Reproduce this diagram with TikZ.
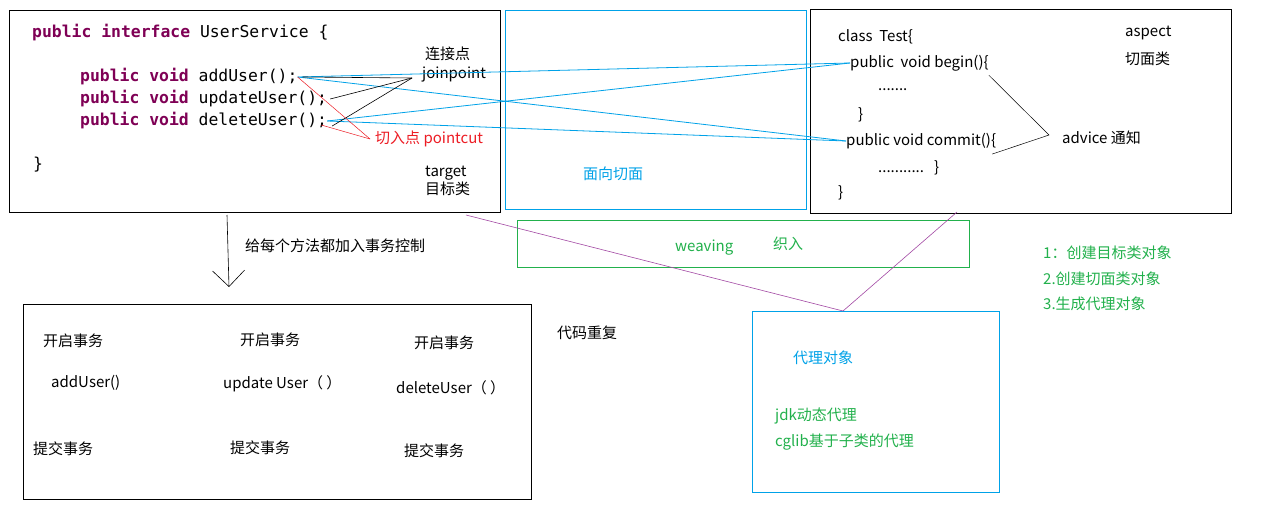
\documentclass[tikz,border=0pt]{standalone}
\usepackage{fontspec}
\usepackage{tikz}
\usetikzlibrary{arrows.meta}
\setmainfont{Noto Sans CJK SC}
\newfontfamily\codefont{DejaVu Sans Mono}
\definecolor{paintblue}{HTML}{00A2E8}
\definecolor{paintgreen}{HTML}{22B14C}
\definecolor{paintpurple}{HTML}{A349A4}
\definecolor{paintred}{HTML}{ED1C24}
\definecolor{keyword}{HTML}{7F0055}
\newcommand{\kwd}[1]{\textbf{\color{keyword}#1}}

\begin{document}
\begin{tikzpicture}[x=1pt,y=-1pt,
  box/.style={draw,line width=0.8pt,anchor=north west,inner sep=0pt},
  lbl/.style={anchor=west,inner sep=0pt,yshift=-2pt,font=\fontsize{15}{18}\selectfont},
  code/.style={anchor=west,inner sep=0pt,yshift=-2pt,font=\codefont\fontsize{16.4}{19}\selectfont}]
\useasboundingbox [fill=white] (0,0) rectangle (1274,516);
% boxes
\node (target) at (9,10) [box,minimum width=491pt,minimum height=202pt]{};
\node (facet) at (505,10) [box,paintblue,minimum width=301pt,minimum height=199pt]{};
\node (aspect) at (810,9) [box,minimum width=421pt,minimum height=204pt]{};
\node (weave) at (517,220) [box,paintgreen,minimum width=452pt,minimum height=47pt]{};
\node (repeat) at (23,304) [box,minimum width=508pt,minimum height=195pt]{};
\node (proxy) at (752,311) [box,paintblue,minimum width=247pt,minimum height=181pt]{};
% target class
\node at (32,31) [code] (iface) {\kwd{public interface} UserService \{};
\node at (80,75) [code] (add) {\kwd{public void} addUser();};
\node at (80,97) [code] (upd) {\kwd{public void} updateUser();};
\node at (80,119) [code] (del) {\kwd{public void} deleteUser();};
\node at (33,163) [code] (iend) {\}};
\node at (425,52) [lbl] (jpcn) {连接点};
\node at (422,73) [lbl] (jp) {joinpoint};
\node at (375,137) [lbl,paintred] (pc) {切入点 pointcut};
\node at (425,171) [lbl] (tgt) {target};
\node at (425,187) [lbl] (tgtcn) {目标类};
\node at (583,172) [lbl,paintblue] (facetlbl) {面向切面};
% aspect class
\node at (838,35) [lbl] (cls) {class~~Test\{};
\node at (850,61) [lbl] (begin) {public~~void begin()\{};
\node at (878,88) [lbl] (bdots) {.......};
\node at (858,113) [lbl] (bend) {\}};
\node at (846,139) [lbl] (commit) {public void commit()\{};
\node at (878,166) [lbl] (cdots) {...........~~~\}};
\node at (838,191) [lbl] (cend) {\}};
\node at (1125,31) [lbl] (asp) {aspect};
\node at (1125,57) [lbl] (aspcn) {切面类};
\node at (1062,136) [lbl] (adv) {advice 通知};
% weaving
\node at (675,246) [lbl,paintgreen] (wv) {weaving};
\node at (773,242) [lbl,paintgreen] (wvcn) {织入};
% repeated code
\node at (245,244) [lbl] (addtx) {给每个方法都加入事务控制};
\node at (43,339) [lbl] (open1) {开启事务};
\node at (240,338) [lbl] (open2) {开启事务};
\node at (414,341) [lbl] (open3) {开启事务};
\node at (51,381) [lbl] (m1) {addUser()};
\node at (223,382) [lbl] (m2) {update User（ ）};
\node at (396,386) [lbl] (m3) {deleteUser（ ）};
\node at (33,447) [lbl] (cm1) {提交事务};
\node at (230,446) [lbl] (cm2) {提交事务};
\node at (404,449) [lbl] (cm3) {提交事务};
\node at (557,331) [lbl] (dup) {代码重复};
% proxy
\node at (793,356) [lbl,paintblue] (pxlbl) {代理对象};
\node at (775,414) [lbl,paintgreen] (jdk) {jdk动态代理};
\node at (775,440) [lbl,paintgreen] (cglib) {cglib基于子类的代理};
\node at (1043,251) [lbl,paintgreen] (s1) {1：创建目标类对象};
\node at (1043,277) [lbl,paintgreen] (s2) {2.创建切面类对象};
\node at (1043,302) [lbl,paintgreen] (s3) {3.生成代理对象};
% end points
\coordinate (jptip) at ([xshift=-10pt,yshift=-3pt]jp.west);
\coordinate (pctip) at ([xshift=-5pt]pc.west);
\coordinate (advtip) at ([xshift=-13pt,yshift=3pt]adv.west);
\coordinate (wvs) at (466,215);
\coordinate (wve) at (957,212);
\coordinate (pxtop) at (843,311);
\coordinate (arrs) at (227,215);
\coordinate (arre) at (229,287);
% connectors
\draw [paintblue,line width=0.8pt] (add.east) -- (begin.west);
\draw [paintblue,line width=0.8pt] (add.east) -- (commit.west);
\draw [paintblue,line width=0.8pt] (del.east) -- (begin.west);
\draw [paintblue,line width=0.8pt] (del.east) -- (commit.west);
\draw [line width=0.6pt] (jptip) -- ([xshift=5pt]add.east);
\draw [line width=0.6pt] (jptip) -- ([xshift=3pt]upd.east);
\draw [line width=0.6pt] (jptip) -- ([xshift=5pt,yshift=-5pt]del.east);
\draw [paintred,line width=0.5pt] (pctip) -- (add.east);
\draw [paintred,line width=0.5pt] (pctip) -- ([xshift=-6pt,yshift=-4pt]del.east);
\draw [line width=0.5pt] ([yshift=-4pt]begin.south east) -- (advtip) -- ([xshift=-4pt,yshift=-5pt]commit.south east);
\draw [paintpurple,line width=0.6pt] (wvs) -- (pxtop) -- (wve);
\draw [line width=0.6pt,-{Straight Barb[length=16pt,width=32pt]}] (arrs) -- (arre);
\end{tikzpicture}
\end{document}
